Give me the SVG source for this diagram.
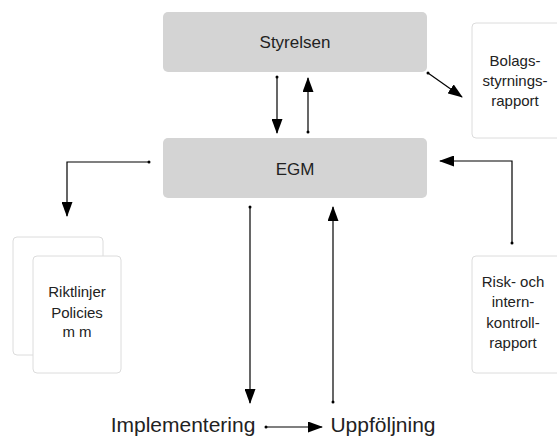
<svg xmlns="http://www.w3.org/2000/svg" width="557" height="436" viewBox="0 0 557 436">
<style>
.main{fill:#d4d4d4;stroke:none}
.card{fill:#fff;stroke:#dcdcdc;stroke-width:1}
.t{font-family:"Liberation Sans",Arial,sans-serif;fill:#222;text-anchor:middle}
.big{font-size:17px}
.sm{font-size:15px}
.xl{font-size:21px}
.c{fill:none;stroke:#000;stroke-width:1.2}
</style>
<defs>
<marker id="ah" markerWidth="15" markerHeight="11" refX="14" refY="5.5" orient="auto" markerUnits="userSpaceOnUse">
<path d="M0,0 L15,5.5 L0,11 Z" fill="#000"/>
</marker>
<marker id="dot" markerWidth="4" markerHeight="4" refX="2" refY="2" markerUnits="userSpaceOnUse">
<circle cx="2" cy="2" r="1.5" fill="#000"/>
</marker>
</defs>
<g id="styrelsen">
<rect class="main" x="163" y="12" width="264" height="60" rx="5"/>
<text class="t big" x="295" y="48">Styrelsen</text>
</g>
<g id="egm">
<rect class="main" x="163" y="138" width="264" height="60" rx="5"/>
<text class="t big" x="295" y="175">EGM</text>
</g>
<g id="bolag">
<rect class="card" x="472" y="23" width="90" height="115" rx="4"/>
<text class="t sm" x="515" y="66">Bolags-</text>
<text class="t sm" x="515" y="86">styrnings-</text>
<text class="t sm" x="515" y="106">rapport</text>
</g>
<g id="risk">
<rect class="card" x="472" y="256" width="90" height="117" rx="4"/>
<text class="t sm" x="513" y="287">Risk- och</text>
<text class="t sm" x="513" y="307">intern-</text>
<text class="t sm" x="513" y="328">kontroll-</text>
<text class="t sm" x="513" y="348">rapport</text>
</g>
<g id="riktlinjer">
<rect class="card" x="13" y="237" width="90" height="118" rx="4"/>
<rect class="card" x="33" y="256" width="88" height="117" rx="4"/>
<text class="t sm" x="77" y="297">Riktlinjer</text>
<text class="t sm" x="77" y="318">Policies</text>
<text class="t sm" x="77" y="337">m m</text>
</g>
<g id="implementering">
<text class="t xl" x="183" y="432">Implementering</text>
</g>
<g id="uppfoljning">
<text class="t xl" x="383" y="432">Uppföljning</text>
</g>
<g id="connectors">
<path class="c" d="M277,77 V133" marker-start="url(#dot)" marker-end="url(#ah)"/>
<path class="c" d="M308,132 V78" marker-start="url(#dot)" marker-end="url(#ah)"/>
<path class="c" d="M428,73 L462,97" marker-start="url(#dot)" marker-end="url(#ah)"/>
<path class="c" d="M149,162 H67 V216" marker-start="url(#dot)" marker-end="url(#ah)"/>
<path class="c" d="M512,243 V161 H440" marker-start="url(#dot)" marker-end="url(#ah)"/>
<path class="c" d="M250,207 V403" marker-start="url(#dot)" marker-end="url(#ah)"/>
<path class="c" d="M333,402 V207" marker-start="url(#dot)" marker-end="url(#ah)"/>
<path class="c" d="M266,427 H322" marker-start="url(#dot)" marker-end="url(#ah)"/>
</g>
</svg>
